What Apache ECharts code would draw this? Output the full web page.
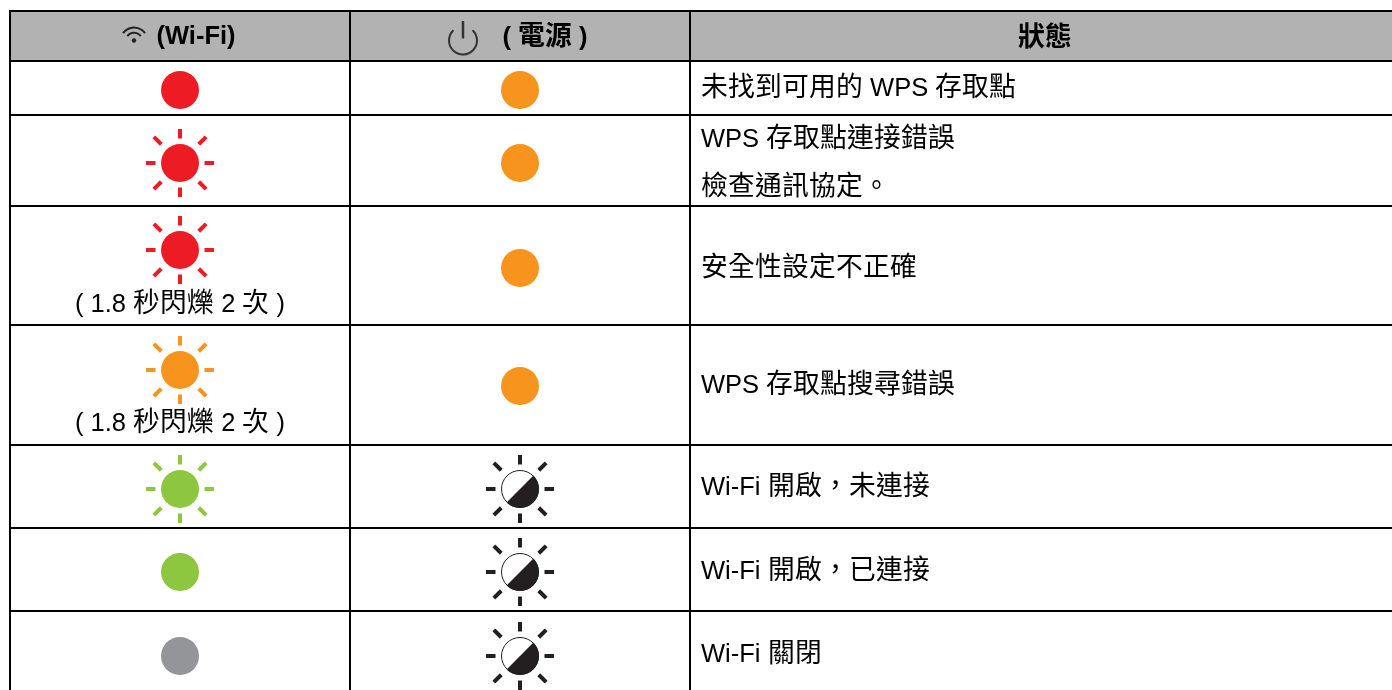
<!DOCTYPE html>
<html lang="zh-TW">
<head>
<meta charset="utf-8">
<title>Wi-Fi 指示燈狀態</title>
<script src="https://cdn.jsdelivr.net/npm/echarts@6/dist/echarts.min.js"></script>
<style>
  /* the CJK glyphs in the source run a little bigger than the Latin ones */
  @font-face { font-family: "TC Text"; src: local("Noto Sans CJK TC"), local("Noto Sans CJK TC Regular"); size-adjust: 105%; }
  @font-face { font-family: "TC Text"; font-weight: bold; src: local("Noto Sans CJK TC Bold"); size-adjust: 105%; }
  html, body { margin: 0; padding: 0; background: #fff; }
  #main { width: 1392px; height: 690px; }
</style>
</head>
<body>
<div id="main"></div>
<script>
// table content, one entry per row
const headers = ['(Wi-Fi)', '( 電源 )', '狀態'];
const wifiStates = ['red', 'redBlink', 'redBlink', 'orangeBlink', 'greenBlink', 'green', 'grey'];
const powerStates = ['orange', 'orange', 'orange', 'orange', 'dim', 'dim', 'dim'];
const wifiCaptions = ['', '', '( 1.8 秒閃爍 2 次 )', '( 1.8 秒閃爍 2 次 )', '', '', ''];
const statusLines = [
  ['未找到可用的 WPS 存取點'],
  ['WPS 存取點連接錯誤', '檢查通訊協定。'],
  ['安全性設定不正確'],
  ['WPS 存取點搜尋錯誤'],
  ['Wi-Fi 開啟，未連接'],
  ['Wi-Fi 開啟，已連接'],
  ['Wi-Fi 關閉']
];

// layout in page pixels, axes below run 1:1 with the canvas
const columnEdges = [10, 350, 690, 1400];
const rowEdges = [11, 61, 115, 206, 325, 445, 528, 611];
const wifiY = [90, 163, 250, 370, 489, 572, 656];
const powerY = [90, 163, 268, 386, 489, 572, 656];
const captionY = [0, 0, 305, 424, 0, 0, 0];
const statusY = [[89], [140, 188], [269], [386], [488], [572], [655]];
const wifiX = 180, powerX = 520, statusX = 701;

const colors = { red: '#ed1c24', orange: '#f7941d', green: '#8dc63f', grey: '#939598', dim: '#231f20' };
const font = '"Liberation Sans", "TC Text", "Noto Sans CJK TC", sans-serif';
const R = 19;

const rays = (cx, cy, color) => {
  const out = [];
  for (let i = 0; i < 8; i++) {
    const a = i * Math.PI / 4;
    const diag = i % 2 === 1;
    const r0 = diag ? 26.5 : 24.5, r1 = diag ? 37 : 34;
    out.push({
      type: 'line',
      shape: {
        x1: cx + Math.cos(a) * r0, y1: cy + Math.sin(a) * r0,
        x2: cx + Math.cos(a) * r1, y2: cy + Math.sin(a) * r1
      },
      style: { stroke: color, lineWidth: 4 }
    });
  }
  return out;
};

const lamp = (x, y, state) => {
  const [cx, cy] = [x, y];
  if (state === 'dim') {
    return [
      ...rays(cx, cy, colors.dim),
      { type: 'circle', shape: { cx, cy, r: R - 0.5 }, style: { fill: '#fff', stroke: colors.dim, lineWidth: 1 } },
      { type: 'sector', shape: { cx, cy, r: R, r0: 0, startAngle: -Math.PI / 4, endAngle: Math.PI * 3 / 4, clockwise: true }, style: { fill: colors.dim } }
    ];
  }
  const blink = state.endsWith('Blink');
  const color = colors[state.replace('Blink', '')];
  return [
    ...(blink ? rays(cx, cy, color) : []),
    { type: 'circle', shape: { cx, cy, r: R }, style: { fill: color } }
  ];
};

const textEl = (x, y, text, align, bold) => ({
  type: 'text',
  x, y,
  style: {
    text, x: 0, y: 0, align, verticalAlign: 'middle',
    font: `${bold ? 'bold ' : ''}25.5px ${font}`,
    fill: '#000'
  }
});

// small icons in the header
const wifiGlyph = (cx, cy) => {
  const els = [{ type: 'circle', shape: { cx, cy: cy - 0.5, r: 2.2 }, style: { fill: '#222' } }];
  [8.3, 13.5].forEach(r => {
    els.push({
      type: 'arc',
      shape: { cx, cy, r, startAngle: -Math.PI / 2 - 0.95, endAngle: -Math.PI / 2 + 0.95, clockwise: true },
      style: { stroke: '#222', fill: 'none', lineWidth: 2 }
    });
  });
  return els;
};
const powerGlyph = (cx, cy) => [
  { type: 'arc', shape: { cx, cy, r: 14, startAngle: -Math.PI / 2 + 0.75, endAngle: -Math.PI / 2 - 0.75 + Math.PI * 2, clockwise: true }, style: { stroke: '#333', fill: 'none', lineWidth: 2 } },
  { type: 'line', shape: { x1: cx, y1: cy - 19.5, x2: cx, y2: cy - 2 }, style: { stroke: '#333', lineWidth: 2.5 } }
];

const renderTable = () => {
  const els = [{
    type: 'rect',
    shape: { x: columnEdges[0], y: rowEdges[0], width: columnEdges[3] - columnEdges[0], height: rowEdges[1] - rowEdges[0] },
    style: { fill: '#b2b2b2' }
  }];
  rowEdges.forEach(y => els.push({
    type: 'line', shape: { x1: columnEdges[0] - 1, y1: y, x2: columnEdges[3], y2: y },
    style: { stroke: '#000', lineWidth: 2 }
  }));
  columnEdges.forEach(x => els.push({
    type: 'line', shape: { x1: x, y1: rowEdges[0], x2: x, y2: 690 },
    style: { stroke: '#000', lineWidth: 2 }
  }));
  return { type: 'group', children: els };
};

const renderRow = (params, api) => {
  const i = params.dataIndex;
  const toXY = (x, y) => api.coord([x, y]);
  const els = [];
  const [wx, wy] = toXY(wifiX, wifiY[i]);
  const [px, py] = toXY(powerX, powerY[i]);
  els.push(...lamp(wx, wy, wifiStates[i]), ...lamp(px, py, powerStates[i]));
  if (wifiCaptions[i]) {
    const [cx, cy] = toXY(wifiX, captionY[i]);
    els.push(textEl(cx, cy, wifiCaptions[i], 'center', false));
  }
  statusLines[i].forEach((line, k) => {
    const [sx, sy] = toXY(statusX, statusY[i][k]);
    els.push(textEl(sx, sy, line, 'left', false));
  });
  return { type: 'group', children: els };
};

const renderHeader = () => ({
  type: 'group',
  children: [
    ...wifiGlyph(134, 41),
    ...powerGlyph(463, 40.5),
    textEl(196, 37, headers[0], 'center', true),
    textEl(545, 38, headers[1], 'center', true),
    textEl(1045, 39, headers[2], 'center', true)
  ]
});

const draw = () => {
  const chart = echarts.init(document.getElementById('main'), null, { renderer: 'canvas' });
  chart.setOption({
    animation: false,
    backgroundColor: '#fff',
    grid: { left: 0, right: 0, top: 0, bottom: 0 },
    xAxis: { type: 'value', min: 0, max: 1392, show: false },
    yAxis: { type: 'value', min: 0, max: 690, inverse: true, show: false },
    series: [
      { type: 'custom', name: 'table', data: [[0, 0]], clip: false, renderItem: renderTable, silent: true, z: 1 },
      { type: 'custom', name: 'header', data: [[0, 0]], clip: false, renderItem: renderHeader, silent: true, z: 2 },
      { type: 'custom', name: 'rows', data: wifiStates.map((s, i) => [wifiX, wifiY[i]]), clip: false, renderItem: renderRow, silent: true, z: 2 }
    ]
  });
  window.addEventListener('resize', () => chart.resize());
};

// local faces load on first use, canvas text would miss them otherwise
Promise.all([
  document.fonts.load('26px "TC Text"', '電'),
  document.fonts.load('bold 26px "TC Text"', '電')
]).then(draw, draw);
</script>
</body>
</html>
